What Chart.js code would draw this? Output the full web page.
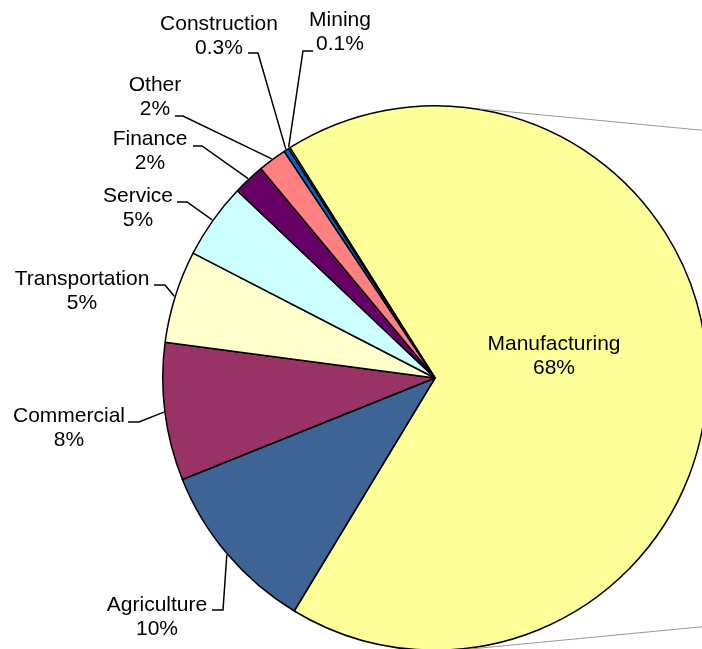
<!DOCTYPE html>
<html>
<head>
<meta charset="utf-8">
<script src="https://cdn.jsdelivr.net/npm/chart.js@4/dist/chart.umd.min.js"></script>
<style>
  html, body { margin: 0; padding: 0; background: #fff; overflow: hidden; }
  #wrap { width: 702px; height: 649px; overflow: hidden; }
</style>
</head>
<body>
<div id="wrap"><canvas id="pie" width="710" height="651"></canvas></div>
<script>
// data
const sectors = ['Manufacturing', 'Agriculture', 'Commercial', 'Transportation', 'Service', 'Finance', 'Other', 'Construction', 'Mining'];
const shares = [67.8, 10.3, 8.2, 5.5, 4.5, 1.9, 1.7, 0.3, 0.1];
const shareLabels = ['68%', '10%', '8%', '5%', '5%', '2%', '2%', '0.3%', '0.1%'];
const colors = ['#FFFF99', '#3D6494', '#993366', '#FFFFCC', '#CCFFFF', '#660066', '#FF8080', '#0066CC', '#CCCCFF'];

// label placement: text centre x, first line y, leader horizontal piece [xNearText, xElbow, y]
const labelLayout = [
  { x: 554, y: 344, seg: null },
  { x: 157, y: 605, seg: [212, 223, 610] },
  { x: 69, y: 416, seg: [128, 139, 422] },
  { x: 82, y: 279, seg: [154, 165, 285] },
  { x: 138, y: 196, seg: [177, 187, 202] },
  { x: 150, y: 139, seg: [193, 202, 146] },
  { x: 155, y: 85, seg: [175, 183, 116] },
  { x: 219, y: 24, seg: [248, 258, 53] },
  { x: 340, y: 20, seg: [313, 303, 51] }
];

const labelPlugin = {
  id: 'pieLabels',
  afterDraw(chart) {
    const ctx = chart.ctx;
    const meta = chart.getDatasetMeta(0);
    ctx.save();

    // grey connector lines toward the (cut off) secondary pie
    ctx.strokeStyle = '#999';
    ctx.lineWidth = 1;
    ctx.beginPath();
    ctx.moveTo(480, 109); ctx.lineTo(710, 131);
    ctx.moveTo(460, 650); ctx.lineTo(710, 626);
    ctx.stroke();

    ctx.font = '21px "Liberation Sans", Arial, sans-serif';
    ctx.textAlign = 'center';
    ctx.textBaseline = 'middle';
    ctx.fillStyle = '#000';
    ctx.strokeStyle = '#000';
    ctx.lineWidth = 1.5;

    meta.data.forEach((arc, i) => {
      const lay = labelLayout[i];
      ctx.fillText(sectors[i], lay.x, lay.y);
      ctx.fillText(shareLabels[i], lay.x, lay.y + 24);
      if (lay.seg) {
        const mid = (arc.startAngle + arc.endAngle) / 2;
        const r = arc.outerRadius + 1;
        const ax = arc.x + Math.cos(mid) * r;
        const ay = arc.y + Math.sin(mid) * r;
        ctx.beginPath();
        ctx.moveTo(lay.seg[0], lay.seg[2]);
        ctx.lineTo(lay.seg[1], lay.seg[2]);
        ctx.lineTo(ax, ay);
        ctx.stroke();
      }
    });
    ctx.restore();
  }
};

new Chart(document.getElementById('pie'), {
  type: 'pie',
  data: {
    labels: sectors,
    datasets: [{
      data: shares,
      backgroundColor: colors,
      borderColor: '#000',
      borderWidth: 1.5
    }]
  },
  options: {
    responsive: false,
    animation: false,
    devicePixelRatio: 1,
    rotation: -32.2,
    layout: { padding: { left: 162, right: 2, top: 105, bottom: 0 } },
    plugins: {
      legend: { display: false },
      tooltip: { enabled: false }
    }
  },
  plugins: [labelPlugin]
});
</script>
</body>
</html>
